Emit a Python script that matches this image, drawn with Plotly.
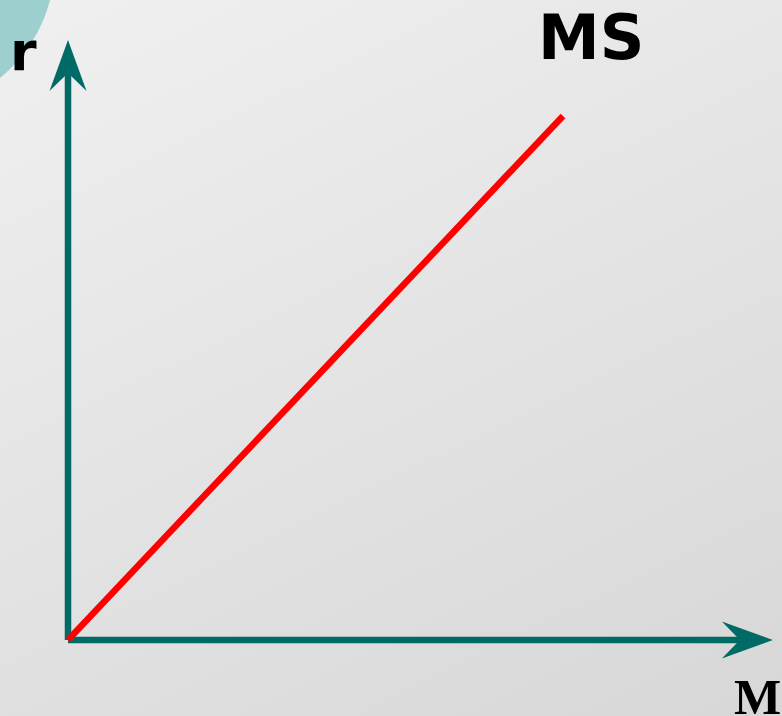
import base64
import plotly.graph_objects as go

# ---- data ----
ms_money = [0, 10]          # money quantity along the MS curve
ms_rate = [0, 10]           # interest rate along the MS curve
curve_label = "MS"
x_label = "M"
y_label = "r"
x_axis_end = 14.24          # length of the drawn M axis (data units)
y_axis_end = 11.45          # length of the drawn r axis (data units)

W, H = 782, 716
X_RANGE = [-1.3737, 14.4242]
Y_RANGE = [-1.4504, 12.2137]
PX_X = W / (X_RANGE[1] - X_RANGE[0])   # pixels per x unit
PX_Y = H / (Y_RANGE[1] - Y_RANGE[0])   # pixels per y unit

TEAL = "#006a66"
AXIS_W = 6.5
HEAD_LEN, HEAD_HALF, HEAD_NOTCH = 51, 18.5, 33   # arrowhead geometry in pixels

svg = f'''<svg xmlns="http://www.w3.org/2000/svg" width="{W}" height="{H}" viewBox="0 0 {W} {H}" preserveAspectRatio="none">
<defs><linearGradient id="g" x1="0" y1="0" x2="0.632" y2="1.195">
<stop offset="0" stop-color="#f0f0f0"/><stop offset="1" stop-color="#d7d7d7"/></linearGradient></defs>
<rect width="{W}" height="{H}" fill="url(#g)"/>
<circle cx="-95" cy="-38" r="150" fill="#9dcfcf"/>
</svg>'''
bg_src = "data:image/svg+xml;base64," + base64.b64encode(svg.encode()).decode()

fig = go.Figure()

# axes (shafts stop at the arrowhead notch)
x_notch = x_axis_end - HEAD_NOTCH / PX_X
y_notch = y_axis_end - HEAD_NOTCH / PX_Y
fig.add_trace(go.Scatter(x=[0, x_notch], y=[0, 0], mode="lines",
                         line=dict(color=TEAL, width=AXIS_W), hoverinfo="skip"))
fig.add_trace(go.Scatter(x=[0, 0], y=[0, y_notch], mode="lines",
                         line=dict(color=TEAL, width=AXIS_W), hoverinfo="skip"))

# MS curve
fig.add_trace(go.Scatter(x=ms_money, y=ms_rate, mode="lines",
                         line=dict(color="#ff0000", width=6.5),
                         hoverinfo="skip"))

# arrowheads derived from axis ends
def head_x(xe):
    bx = xe - HEAD_LEN / PX_X
    nx = xe - HEAD_NOTCH / PX_X
    hy = HEAD_HALF / PX_Y
    return f"M {xe} 0 L {bx} {hy} L {nx} 0 L {bx} {-hy} Z"

def head_y(ye):
    by = ye - HEAD_LEN / PX_Y
    ny = ye - HEAD_NOTCH / PX_Y
    hx = HEAD_HALF / PX_X
    return f"M 0 {ye} L {hx} {by} L 0 {ny} L {-hx} {by} Z"

for p in (head_x(x_axis_end), head_y(y_axis_end)):
    fig.add_shape(type="path", path=p, xref="x", yref="y",
                  fillcolor=TEAL, line=dict(width=0), layer="above")

annotations = [
    dict(x=591 / W, y=1 - 37 / H, xref="paper", yref="paper", text=f"<b>{curve_label}</b>",
         showarrow=False, xanchor="center", yanchor="middle",
         font=dict(family="DejaVu Sans", size=62, color="black")),
    dict(x=23 / W, y=1 - 52 / H, xref="paper", yref="paper", text=f"<b>{y_label}</b>",
         showarrow=False, xanchor="center", yanchor="middle",
         font=dict(family="DejaVu Sans", size=54, color="black")),
    dict(x=732 / W, y=1 - 697 / H, xref="paper", yref="paper", text=f"<b>{x_label}</b>",
         showarrow=False, xanchor="left", yanchor="middle",
         font=dict(family="Liberation Serif", size=50, color="black")),
]

fig.update_layout(
    width=W, height=H,
    margin=dict(l=0, r=0, t=0, b=0),
    paper_bgcolor="#e4e4e4",
    plot_bgcolor="rgba(0,0,0,0)",
    xaxis=dict(range=X_RANGE, visible=False, showgrid=False, zeroline=False, fixedrange=True),
    yaxis=dict(range=Y_RANGE, visible=False, showgrid=False, zeroline=False, fixedrange=True),
    images=[dict(source=bg_src, xref="paper", yref="paper", x=0, y=1, sizex=1, sizey=1,
                 xanchor="left", yanchor="top", sizing="stretch", layer="below")],
    annotations=annotations,
    showlegend=False,
)

fig.write_html("out.html", config={"displayModeBar": False},
               post_script="document.body.style.margin='0';document.body.style.overflow='hidden';")
